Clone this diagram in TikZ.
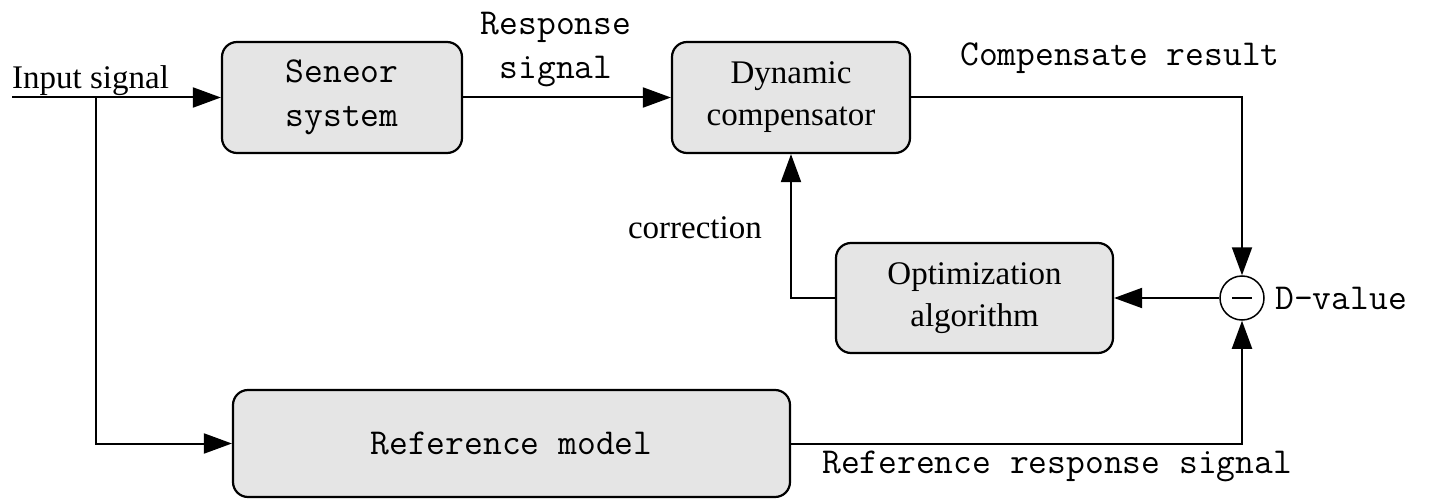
\documentclass[tikz,border=0pt]{standalone}
\usepackage{fontspec}
\setmainfont{Liberation Serif}
\usetikzlibrary{arrows.meta}
\tikzset{
  blk/.style={draw=black, line width=2.2pt, rounded corners=15pt, fill=gray!20, align=center, inner sep=0pt},
  serift/.style={font=\fontsize{33}{42}\selectfont, align=center},
  monot/.style={font=\ttfamily\fontsize{36.5}{44}\selectfont, align=center},
  conn/.style={line width=2pt},
  arr/.style={conn, -{Triangle[length=28pt,width=20pt]}},
  sumnode/.style={draw=black, line width=1.5pt, circle, minimum size=44pt, inner sep=0pt, fill=white},
}
\begin{document}
\begin{tikzpicture}[x=1pt,y=-1pt]
\useasboundingbox (0,0) rectangle (1440,500);
\node[blk, monot, minimum width=240pt, minimum height=111pt] (sen) at (342,97.5) {Seneor\\system};
\node[blk, serift, minimum width=238pt, minimum height=111pt] (dyn) at (791,97.5) {Dynamic\\compensator};
\node[blk, serift, minimum width=277pt, minimum height=110pt] (opt) at (974.5,298) {Optimization\\algorithm};
\node[blk, monot, minimum width=557pt, minimum height=107pt] (ref) at (511.5,443.5) {Reference model};
\node[sumnode] (sum) at (1242,298) {};
\draw[line width=2.8pt] ([xshift=-10pt]sum.center) -- ([xshift=10pt]sum.center);

\coordinate (in) at (12,97.5);
\coordinate (br) at (96,97.5);
\node[serift, anchor=base west, inner sep=0pt] (inlab) at (12,89) {Input signal};
\node[monot, inner sep=0pt] (resp) at (556,50) {Response\\signal};
\node[monot, anchor=west, inner sep=0pt] (comp) at (960,58) {Compensate result};
\node[serift, anchor=east, inner sep=0pt] (corr) at (762,228) {correction};
\node[monot, anchor=west, inner sep=0pt] (dval) at (1275,298) {D-value};
\node[monot, anchor=west, inner sep=0pt] (rrs) at (822,466) {Reference response signal};

\draw[arr] (in) -- (sen.west);
\draw[arr] (br) |- (ref.west);
\draw[arr] (sen.east) -- (dyn.west);
\draw[arr] (dyn.east) -| (sum.north);
\draw[arr] (sum.west) -- (opt.east);
\draw[arr] (opt.west) -| (dyn.south);
\draw[arr] (ref.east) -| (sum.south);
\end{tikzpicture}
\end{document}
